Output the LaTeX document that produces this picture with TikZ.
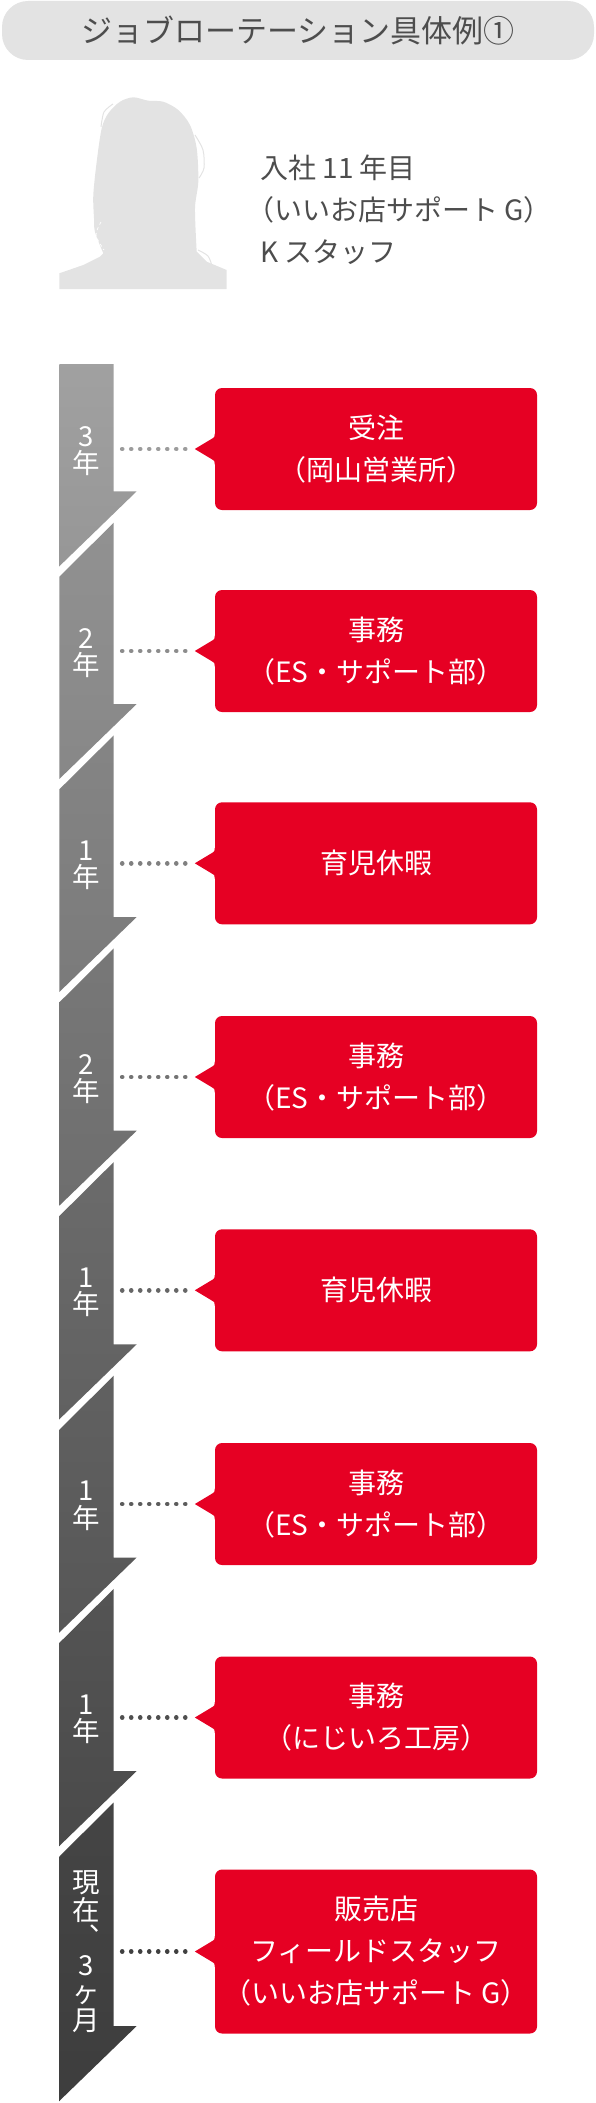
\documentclass[tikz,border=0pt]{standalone}
\usepackage{fontspec}
\setmainfont{Noto Sans CJK JP}
\newfontface\halffont{Noto Sans CJK JP}[RawFeature=+halt]
\newfontface\vertfont{Noto Sans CJK JP}[RawFeature=+vert]
\newcommand{\lkakko}{{\halffont （}}
\newcommand{\rkakko}{{\halffont ）}}
\definecolor{pillgray}{HTML}{E3E3E3}
\definecolor{textgray}{HTML}{4D4D4D}
\definecolor{boxred}{HTML}{E60023}
\tikzset{
  yearlabel/.style={text=white, minimum width=54.4pt, inner sep=0pt, align=center, font=\fontsize{27.5}{27.5}\selectfont},
  jobbox/.style={fill=boxred, text=white, rounded corners=7pt, minimum width=322pt, minimum height=122pt, inner sep=0pt, align=center, font=\fontsize{28}{42}\selectfont,
    append after command={\pgfextra{\fill[boxred, shift={(\tikzlastnode.west)}] (2,-15.5) -- (0,-15.5) .. controls (0,-12) .. (-4,-9.6) -- (-20,0) -- (-4,9.6) .. controls (0,12) .. (0,15.5) -- (2,15.5) -- cycle;}}},
  dotline/.style={line width=4.6pt, line cap=round, dash pattern=on 0.01pt off 9pt, shorten <=8.3pt, shorten >=29.2pt},
  hairline/.style={pillgray, line width=1pt}
}
\begin{document}
\begin{tikzpicture}[x=1pt, y=-1pt]
\useasboundingbox (0,0) rectangle (596,2103);

\node[fill=pillgray, rounded corners=26pt, minimum width=592pt, minimum height=59pt, inner sep=0pt, text=textgray, font=\fontsize{31}{31}\selectfont] (title) at (298,30.5) {ジョブローテーション具体例①};
\fill[pillgray] plot[smooth] coordinates {(103.3,253.3) (95,232) (94,218.3) (93.3,195) (96.7,161.7) (101.7,128.3) (108.3,113.3) (120,101.7) (133.3,97.3) (148.3,100.7) (163.3,101.7) (178.3,110) (190,125) (196.7,148.3) (198.3,181.7) (195,208.3) (196.7,251.7)} -- (206.7,261.7) -- (226.7,270) -- (226.7,289) -- (59.3,289) -- (59.3,273.3) -- (83.3,265) -- (100,256.7) -- cycle;
\draw[hairline] plot[smooth] coordinates {(101,127) (104,112) (113,104)};
\draw[hairline] plot[smooth] coordinates {(195,135) (203,150) (204,168) (199,178)};
\draw[hairline] plot[smooth] coordinates {(198,250) (208,256) (212,266)};
\draw[white, line width=0.7pt, dashed] plot[smooth] coordinates {(101,222) (96,235) (104,250)};

\node[anchor=west, inner sep=0pt, align=left, text=textgray, font=\fontsize{28}{42}\selectfont] (staff) at (260,210) {入社 11 年目\\\lkakko いいお店サポート G\rkakko\\K スタッフ};

\shade[top color=black!37, bottom color=black!41] (59.3,364) -- (113.7,364) -- (113.7,491.3) -- (136.7,491.3) -- (59.3,566.3) -- cycle;
\shade[top color=black!43, bottom color=black!47] (59.3,576.7) -- (113.7,522.7) -- (113.7,704) -- (136.7,704) -- (59.3,779) -- cycle;
\shade[top color=black!48, bottom color=black!52] (59.3,789.4) -- (113.7,735.4) -- (113.7,917) -- (136.7,917) -- (59.3,992) -- cycle;
\shade[top color=black!53, bottom color=black!57] (59.3,1002.4) -- (113.7,948.4) -- (113.7,1130.7) -- (136.7,1130.7) -- (59.3,1205.7) -- cycle;
\shade[top color=black!58, bottom color=black!62] (59.3,1216.1) -- (113.7,1162.1) -- (113.7,1344.3) -- (136.7,1344.3) -- (59.3,1419.3) -- cycle;
\shade[top color=black!62, bottom color=black!66] (59.3,1429.7) -- (113.7,1375.7) -- (113.7,1557.5) -- (136.7,1557.5) -- (59.3,1632.5) -- cycle;
\shade[top color=black!67, bottom color=black!71] (59.3,1642.9) -- (113.7,1588.9) -- (113.7,1771) -- (136.7,1771) -- (59.3,1846) -- cycle;
\shade[top color=black!73, bottom color=black!76] (59.3,1856.5) -- (113.7,1802.5) -- (113.7,2026) -- (136.7,2026) -- (59.3,2101) -- cycle;

\node[yearlabel] (year1) at (86.5,451) {3\\年};
\node[yearlabel] (year2) at (86.5,653) {2\\年};
\node[yearlabel] (year3) at (86.5,865.3) {1\\年};
\node[yearlabel] (year4) at (86.5,1079) {2\\年};
\node[yearlabel] (year5) at (86.5,1292.3) {1\\年};
\node[yearlabel] (year6) at (86.5,1506) {1\\年};
\node[yearlabel] (year7) at (86.5,1719.5) {1\\年};
\node[yearlabel] (year8) at (86.5,1951.5) {現\\在\\{\vertfont 、}\\3\\ヶ\\月};

\node[jobbox] (job1) at (376,449) {受注\\\lkakko 岡山営業所\rkakko};
\node[jobbox] (job2) at (376,651) {事務\\\lkakko ES・サポート部\rkakko};
\node[jobbox] (job3) at (376,863.3) {育児休暇};
\node[jobbox] (job4) at (376,1077) {事務\\\lkakko ES・サポート部\rkakko};
\node[jobbox] (job5) at (376,1290.3) {育児休暇};
\node[jobbox] (job6) at (376,1504) {事務\\\lkakko ES・サポート部\rkakko};
\node[jobbox] (job7) at (376,1717.5) {事務\\\lkakko にじいろ工房\rkakko};
\node[jobbox, minimum height=164pt] (job8) at (376,1951.5) {販売店\\フィールドスタッフ\\\lkakko いいお店サポート G\rkakko};

\draw[dotline, black!39] (year1.east |- job1.west) -- (job1.west);
\draw[dotline, black!45] (year2.east |- job2.west) -- (job2.west);
\draw[dotline, black!50] (year3.east |- job3.west) -- (job3.west);
\draw[dotline, black!55] (year4.east |- job4.west) -- (job4.west);
\draw[dotline, black!60] (year5.east |- job5.west) -- (job5.west);
\draw[dotline, black!64] (year6.east |- job6.west) -- (job6.west);
\draw[dotline, black!69] (year7.east |- job7.west) -- (job7.west);
\draw[dotline, black!75] (year8.east |- job8.west) -- (job8.west);
\end{tikzpicture}
\end{document}
